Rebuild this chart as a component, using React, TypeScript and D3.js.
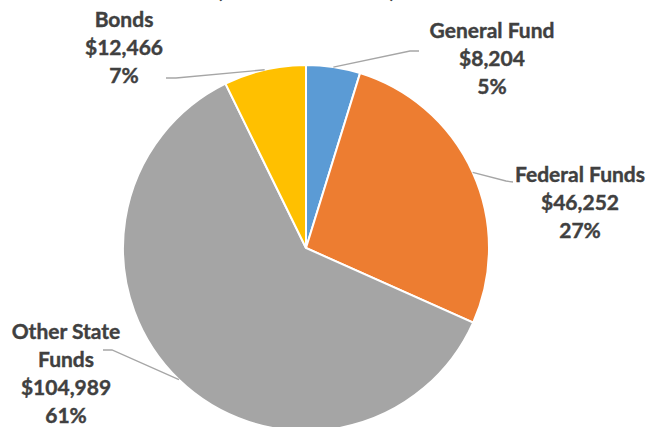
import * as d3 from 'd3';

const categories = ['General Fund', 'Federal Funds', 'Other State Funds', 'Bonds'];
const amounts = [8204, 46252, 104989, 12466];
const labelNames = [['General Fund'], ['Federal Funds'], ['Other State', 'Funds'], ['Bonds']];
const colors = ['#5B9BD5', '#ED7D31', '#A5A5A5', '#FFC000'];
const subtitle = '(Dollars in Millions)';

// layout of the data labels: text centre x, first baseline y, leader elbow
const labelPos = [
  { x: 492, y: 38, elbow: [410, 51], end: [419, 51] },
  { x: 580, y: 182, elbow: [506, 181], end: [513, 182] },
  { x: 66, y: 339, elbow: [112, 350], end: [103, 350] },
  { x: 124, y: 27, elbow: [176, 78], end: [166, 78] },
];

const W = 652;
const H = 427;
const cx = 306;
const cy = 248;
const R = 183;

export default function App() {
  const total = d3.sum(amounts);
  const pie = d3.pie<number>().sort(null).value(d => d);
  const arcs = pie(amounts);
  const arc = d3.arc<d3.PieArcDatum<number>>().innerRadius(0).outerRadius(R);
  const money = d3.format('$,');
  const lineH = 28;

  return (
    <svg
      width={W}
      height={H}
      style={{ position: 'fixed', left: 0, top: 0, background: '#fff' }}
      fontFamily="Lato, 'Open Sans', sans-serif"
      fontWeight="bold"
    >
      <text x={cx} y={-2} textAnchor="middle" fontSize={21} fill="#404040">
        {subtitle}
      </text>
      <g transform={`translate(${cx},${cy})`}>
        {arcs.map((a, i) => (
          <path key={categories[i]} d={arc(a) || ''} fill={colors[i]} stroke="#fff" strokeWidth={2} />
        ))}
      </g>
      {arcs.map((a, i) => {
        const mid = (a.startAngle + a.endAngle) / 2;
        const px = cx + R * Math.sin(mid);
        const py = cy - R * Math.cos(mid);
        const p = labelPos[i];
        const pts: [number, number][] = [[px, py], p.elbow as [number, number], p.end as [number, number]];
        return (
          <path
            key={'l' + i}
            d={d3.line()(pts) || ''}
            fill="none"
            stroke="#A6A6A6"
            strokeWidth={1.3}
          />
        );
      })}
      {arcs.map((a, i) => {
        const p = labelPos[i];
        const lines = [...labelNames[i], money(amounts[i]), Math.round((amounts[i] / total) * 100) + '%'];
        return (
          <text
            key={'t' + i}
            textAnchor="middle"
            fontSize={21}
            fill="#404040"
            stroke="#404040"
            strokeWidth={0.4}
          >
            {lines.map((s, j) => (
              <tspan key={j} x={p.x} y={p.y + j * lineH}>
                {s}
              </tspan>
            ))}
          </text>
        );
      })}
    </svg>
  );
}
